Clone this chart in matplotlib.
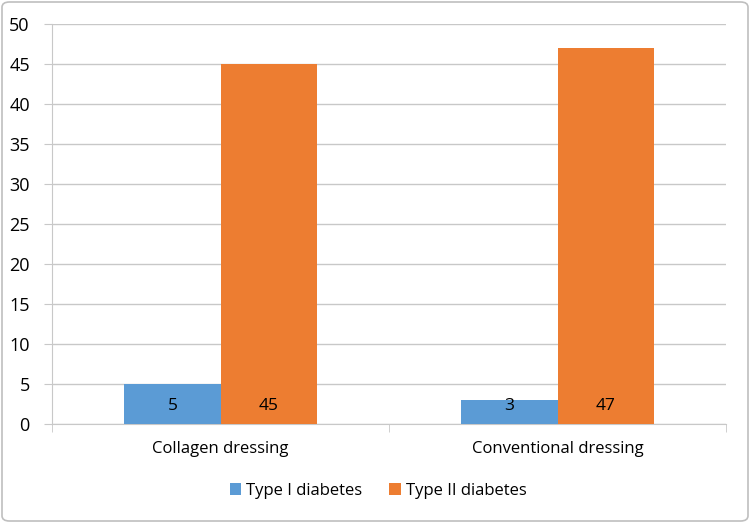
import numpy as np
import matplotlib.pyplot as plt
from matplotlib.patches import FancyBboxPatch

categories = ["Collagen dressing", "Conventional dressing"]
type1 = [5, 3]
type2 = [45, 47]
series_names = ["Type I diabetes", "Type II diabetes"]
colors = ["#5b9bd5", "#ed7d31"]

plt.rcParams['font.family'] = ['Open Sans', 'DejaVu Sans']

fig = plt.figure(figsize=(7.5, 5.23), dpi=100)
ax = fig.add_axes([52/750, 1 - 424/523, 674/750, 400/523])

x = np.arange(len(categories))
w = 0.285
b1 = ax.bar(x - w/2, type1, w, color=colors[0], label=series_names[0], zorder=3)
b2 = ax.bar(x + w/2, type2, w, color=colors[1], label=series_names[1], zorder=3)

# value labels sit at the same height in every bar
for bars, vals in [(b1, type1), (b2, type2)]:
    for r, v in zip(bars, vals):
        ax.text(r.get_x() + r.get_width()/2, 2.3, str(v), ha='center', va='center',
                fontsize=12.5, color='black', zorder=4)

ax.set_xlim(-0.5, 1.5)
ax.set_ylim(0, 50)
ax.set_yticks(np.arange(0, 51, 5))
ax.yaxis.grid(True, color='#c8c8c8', linewidth=1)
ax.set_axisbelow(True)

ax.set_xticks(x)
ax.set_xticklabels(categories, fontsize=12)
ax.tick_params(axis='x', length=0, pad=12)
ax.set_xticks([-0.5, 0.5, 1.5], minor=True)
ax.tick_params(axis='x', which='minor', length=6, color='#c8c8c8')
ax.tick_params(axis='y', length=6, color='#c8c8c8', labelsize=13, pad=10)

for s in ['top', 'right']:
    ax.spines[s].set_visible(False)
for s in ['left', 'bottom']:
    ax.spines[s].set_color('#c8c8c8')

ax.legend(loc='center', bbox_to_anchor=(378/750, 1 - 491/523), bbox_transform=fig.transFigure,
          ncol=2, frameon=False, fontsize=12, handlelength=0.7, handleheight=0.7,
          handletextpad=0.3, columnspacing=1.6)

border = FancyBboxPatch((2/750, 2/523), 746/750, 519/523, boxstyle="round,pad=0,rounding_size=0.01",
                        transform=fig.transFigure, fill=False, edgecolor='#bfbfbf', linewidth=1.2)
fig.patches.append(border)

fig.savefig("out.png", dpi=100)
